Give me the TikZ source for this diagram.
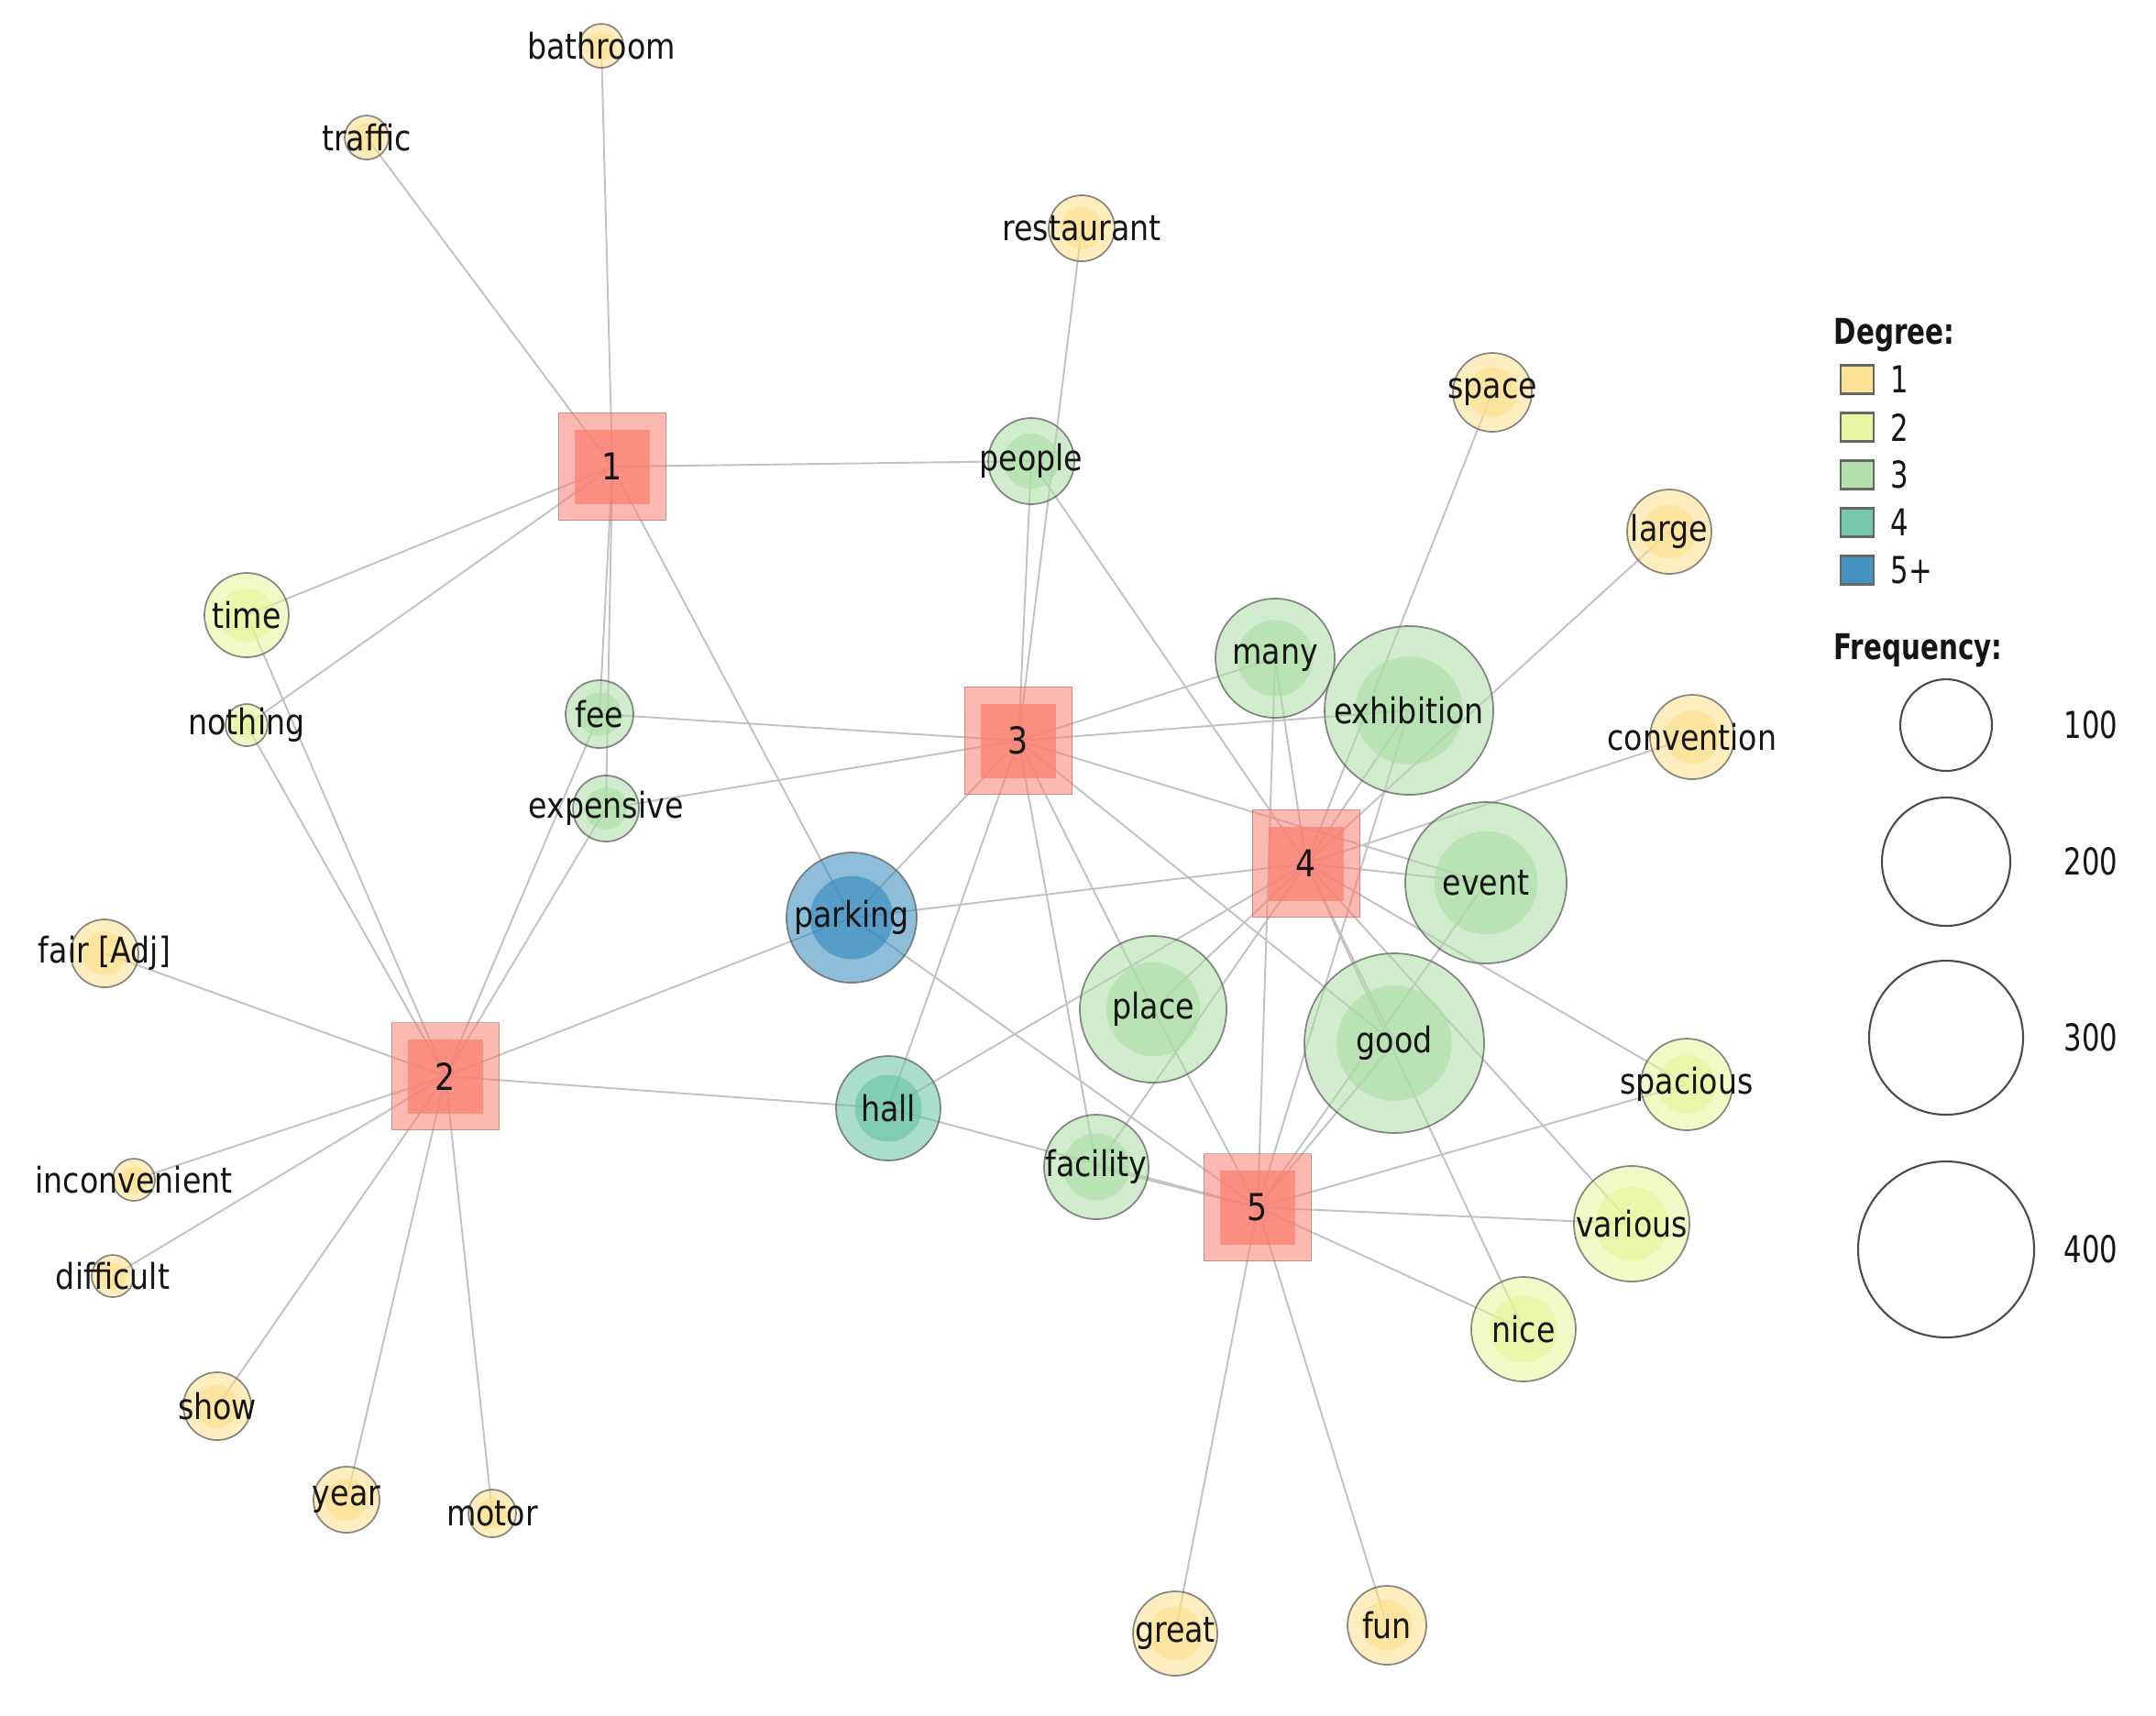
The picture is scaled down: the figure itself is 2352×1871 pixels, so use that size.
\documentclass[tikz,border=0pt]{standalone}
\usepackage{fontspec}
\setmainfont[FakeStretch=0.86]{DejaVu Sans}
\newfontfamily\legfont[FakeStretch=0.76]{DejaVu Sans}
\usetikzlibrary{backgrounds}
\definecolor{dOne}{HTML}{FEE08B}
\definecolor{dTwo}{HTML}{E6F598}
\definecolor{dThree}{HTML}{ABDDA4}
\definecolor{dFour}{HTML}{66C2A5}
\definecolor{dFive}{HTML}{3288BD}
\definecolor{topicc}{HTML}{FB8072}
\definecolor{edgec}{HTML}{C2C2C2}
\definecolor{txtc}{HTML}{151515}
\tikzset{
  x=0.01cm, y=-0.01cm,
  wlab/.style={inner sep=0pt, fill opacity=1, text opacity=1, text=txtc, font=\fontsize{11}{13}\selectfont},
  word/.style n args={3}{circle, inner sep=0pt, minimum size={2*#1*0.01cm},
    fill=#2, fill opacity=0.55, draw=black!65, draw opacity=0.7, line width=0.5pt,
    path picture={\fill[#2, fill opacity=0.6] (path picture bounding box.center) circle[radius={#1*0.0064cm}];},
    label={[wlab]center:#3}},
  topic/.style={rectangle, inner sep=0pt, minimum size=1.17cm,
    fill=topicc, fill opacity=0.55, draw=topicc!70!black, draw opacity=0.5, line width=0.45pt,
    path picture={\fill[topicc, fill opacity=0.75] ([shift={(-0.405cm,-0.405cm)}]path picture bounding box.center) rectangle ++(0.81cm,0.81cm);},
    label={[wlab, font=\fontsize{11.5}{13}\selectfont]center:#1}},
  edge/.style={draw=edgec, line width=0.55pt},
  legtxt/.style={inner sep=0pt, text=txtc, font=\legfont\fontsize{11.5}{13}\selectfont},
  swatch/.style={rectangle, inner sep=0pt, minimum width=0.36cm, minimum height=0.31cm, fill=#1, fill opacity=0.9, draw=black!60, line width=0.6pt},
  freqc/.style={circle, inner sep=0pt, minimum size={2*#1*0.01cm}, draw=black!70, line width=0.6pt}
}
\begin{document}
\begin{tikzpicture}
\useasboundingbox (0,0) rectangle (2352,1871);
% topics
\node[topic=1] (t1) at (668,509) {};
\node[topic=2] (t2) at (486,1174) {};
\node[topic=3] (t3) at (1111,808) {};
\node[topic=4] (t4) at (1425,942) {};
\node[topic=5] (t5) at (1372,1317) {};
% words
\node[word={24}{dOne}{bathroom}] (bathroom) at (656,50) {};
\node[word={24}{dOne}{traffic}] (traffic) at (400,150) {};
\node[word={36}{dOne}{restaurant}] (restaurant) at (1180,249) {};
\node[word={43}{dOne}{space}] (space) at (1628,428) {};
\node[word={46}{dOne}{large}] (large) at (1821,580) {};
\node[word={46}{dOne}{convention}] (convention) at (1846,804) {};
\node[word={47}{dThree}{people}] (people) at (1125,503) {};
\node[word={46}{dTwo}{time}] (time) at (269,671) {};
\node[word={23}{dTwo}{nothing}] (nothing) at (269,791) {};
\node[word={37}{dThree}{fee}] (fee) at (654,779) {};
\node[word={36}{dThree}{expensive}] (expensive) at (661,882) {};
\node[word={65}{dThree}{many}] (many) at (1391,718) {};
\node[word={92}{dThree}{exhibition}] (exhibition) at (1537,775) {};
\node[word={88}{dThree}{event}] (event) at (1621,963) {};
\node[word={71}{dFive}{parking}] (parking) at (929,1001) {};
\node[word={37}{dOne}{fair [Adj]}] (fair) at (114,1040) {};
\node[word={80}{dThree}{place}] (place) at (1258,1101) {};
\node[word={98}{dThree}{good}] (good) at (1521,1138) {};
\node[word={57}{dFour}{hall}] (hall) at (969,1209) {};
\node[word={50}{dTwo}{spacious}] (spacious) at (1840,1183) {};
\node[word={23}{dOne}{inconvenient}] (inconvenient) at (146,1287) {};
\node[word={57}{dThree}{facility}] (facility) at (1196,1273) {};
\node[word={63}{dTwo}{various}] (various) at (1780,1335) {};
\node[word={23}{dOne}{difficult}] (difficult) at (123,1392) {};
\node[word={57}{dTwo}{nice}] (nice) at (1662,1450) {};
\node[word={37}{dOne}{show}] (show) at (237,1534) {};
\node[word={36}{dOne}{year}] (year) at (378,1636) {};
\node[word={26}{dOne}{motor}] (motor) at (537,1651) {};
\node[word={46}{dOne}{great}] (great) at (1282,1782) {};
\node[word={43}{dOne}{fun}] (fun) at (1513,1773) {};
% edges
\begin{scope}[on background layer]
\fill[white] (0,0) rectangle (2352,1871);
\foreach \a/\b in {t1/bathroom, t1/traffic, t1/people, t1/time, t1/nothing, t1/fee, t1/expensive, t1/parking,
  t2/time, t2/nothing, t2/fee, t2/expensive, t2/fair, t2/inconvenient, t2/difficult, t2/show, t2/year, t2/motor, t2/parking, t2/hall,
  t3/restaurant, t3/people, t3/fee, t3/expensive, t3/many, t3/exhibition, t3/event, t3/parking, t3/hall, t3/place, t3/facility, t3/good,
  t4/people, t4/many, t4/exhibition, t4/space, t4/large, t4/convention, t4/event, t4/parking, t4/hall, t4/place, t4/facility, t4/good, t4/spacious, t4/various, t4/nice,
  t5/many, t5/exhibition, t5/event, t5/good, t5/place, t5/facility, t5/hall, t5/parking, t5/spacious, t5/various, t5/nice, t5/great, t5/fun}
  {\draw[edge] (\a.center) -- (\b.center);}
\end{scope}
% legend
\node[legtxt, font=\legfont\bfseries\fontsize{11}{13}\selectfont, anchor=base west] (legdeg) at (2000,375) {Degree:};
\node[swatch=dOne] (sw1) at (2026,414) {};
\node[swatch=dTwo] (sw2) at (2026,466) {};
\node[swatch=dThree] (sw3) at (2026,518) {};
\node[swatch=dFour] (sw4) at (2026,570) {};
\node[swatch=dFive] (sw5) at (2026,622) {};
\node[legtxt, anchor=west] (sl1) at (2062,414) {1};
\node[legtxt, anchor=west] (sl2) at (2062,466) {2};
\node[legtxt, anchor=west] (sl3) at (2062,518) {3};
\node[legtxt, anchor=west] (sl4) at (2062,570) {4};
\node[legtxt, anchor=west] (sl5) at (2062,622) {5+};
\node[legtxt, font=\legfont\bfseries\fontsize{11}{13}\selectfont, anchor=base west] (legfreq) at (2000,719) {Frequency:};
\node[freqc=50] (fc1) at (2123,791) {};
\node[freqc=70] (fc2) at (2123,940) {};
\node[freqc=84] (fc3) at (2123,1132) {};
\node[freqc=96] (fc4) at (2123,1363) {};
\node[legtxt] (fl1) at (2281,791) {100};
\node[legtxt] (fl2) at (2281,940) {200};
\node[legtxt] (fl3) at (2281,1132) {300};
\node[legtxt] (fl4) at (2281,1363) {400};
\end{tikzpicture}
\end{document}
